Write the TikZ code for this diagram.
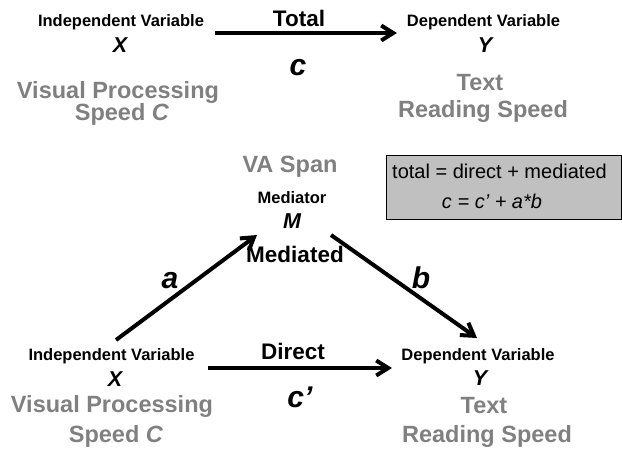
\documentclass[tikz,border=0pt]{standalone}
\usepackage{fontspec}
\setmainfont{Liberation Sans}
\usetikzlibrary{arrows.meta}
\definecolor{lblgray}{RGB}{128,128,128}
\definecolor{boxfill}{RGB}{192,192,192}
\begin{document}
\begin{tikzpicture}[x=1pt,y=-1pt,
  small/.style={font=\fontsize{16.5}{18}\selectfont\bfseries, inner sep=0pt, anchor=base},
  varlbl/.style={font=\fontsize{21.5}{22}\selectfont\bfseries\itshape, inner sep=0pt, anchor=base},
  glbl/.style={font=\fontsize{23.5}{26}\selectfont\bfseries, text=lblgray, inner sep=0pt, anchor=base},
  pathlbl/.style={font=\fontsize{22.5}{24}\selectfont\bfseries, inner sep=0pt, anchor=base},
  coef/.style={font=\fontsize{30}{32}\selectfont\bfseries\itshape, inner sep=0pt, anchor=base},
  boxtxt/.style={font=\fontsize{20}{22}\selectfont, inner sep=0pt, anchor=base},
  arr/.style={line width=4pt, -{Straight Barb[length=12pt,width=15pt]}}
]
\useasboundingbox (0,0) rectangle (622,448);
% ---------- top (total effect) ----------
\node[small] (ivT) at (121,26) {Independent Variable};
\node[varlbl] (xT) at (120,52) {X};
\node[glbl] (vp1T) at (118,98) {Visual Processing};
\node[glbl] (vp2T) at (122,120) {Speed \textit{C}};
\node[small] (dvT) at (483.5,26) {Dependent Variable};
\node[varlbl] (yT) at (485,52) {Y};
\node[glbl] (t1T) at (480,90) {Text};
\node[glbl] (t2T) at (483,117) {Reading Speed};
\node[pathlbl] (tot) at (299,26) {Total};
\node[coef] (cT) at (298,75) {c};
\coordinate (totS) at (215,33);
\coordinate (totE) at (397,33);
\draw[arr] (totS) -- (totE);
% ---------- mediator ----------
\node[glbl] (va) at (290,172) {VA Span};
\node[small] (med) at (292,203) {Mediator};
\node[varlbl] (mM) at (292,228) {M};
\node[pathlbl] (medl) at (295,262) {Mediated};
\node[coef] (aL) at (170,288) {a};
\node[coef] (bL) at (421,288) {b};
% ---------- box ----------
\node[draw=black, line width=1pt, fill=boxfill, minimum width=235pt, minimum height=64pt, inner sep=0pt] (box) at (503.5,187) {};
\node[boxtxt] (eq1) at (499.5,178) {total = direct + mediated};
\node[boxtxt] (eq2) at (492,208) {\itshape c = c’ + a*b};
% ---------- bottom (direct effect) ----------
\node[small] (ivB) at (111.5,360) {Independent Variable};
\node[varlbl] (xB) at (115,386) {X};
\node[glbl] (vp1B) at (112,412) {Visual Processing};
\node[glbl] (vp2B) at (116,442) {Speed \textit{C}};
\node[small] (dvB) at (478,360) {Dependent Variable};
\node[varlbl] (yB) at (480,385) {Y};
\node[glbl] (t1B) at (484,413) {Text};
\node[glbl] (t2B) at (487,442) {Reading Speed};
\node[pathlbl] (dir) at (293,359) {Direct};
\node[coef] (cB) at (300,407) {c’};
% ---------- arrows ----------
\coordinate (aS) at (116,340);
\coordinate (aE) at (257,235);
\coordinate (bS) at (331,235);
\coordinate (bE) at (477,338);
\coordinate (dS) at (208,368);
\coordinate (dE) at (392,368);
\draw[arr] (aS) -- (aE);
\draw[arr] (bS) -- (bE);
\draw[arr] (dS) -- (dE);
\end{tikzpicture}
\end{document}
